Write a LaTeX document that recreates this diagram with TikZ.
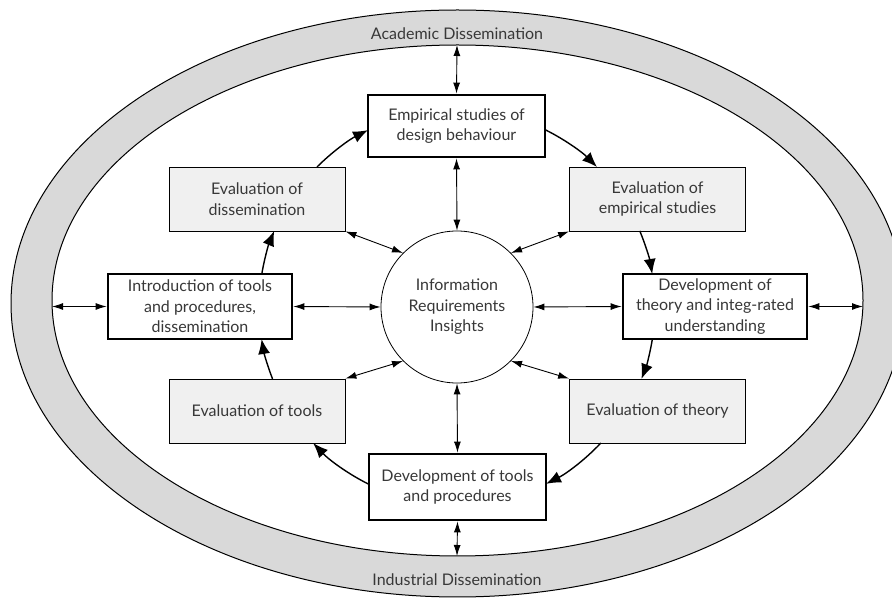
\documentclass[tikz,border=0pt]{standalone}
\usepackage{fontspec}
\setmainfont{Lato}
\usetikzlibrary{arrows.meta,calc}
\definecolor{ringgray}{HTML}{D9D9D9}
\definecolor{boxgray}{HTML}{F0F0F0}
\definecolor{txt}{HTML}{383838}
\begin{document}
\begin{tikzpicture}[x=1pt,y=1pt,
  every node/.style={font=\fontsize{16}{20.5}\selectfont, text=txt},
  mainbox/.style={draw, line width=2.8pt, fill=white, minimum width=177pt, minimum height=62pt, align=center, inner sep=0pt},
  evalbox/.style={draw, line width=0.8pt, fill=boxgray, minimum width=176pt, minimum height=64pt, align=center, inner sep=0pt},
  dbl/.style={{Latex[length=11pt,width=7pt]}-{Latex[length=11pt,width=7pt]}, line width=0.9pt},
  cyc/.style={-{Latex[length=15pt,width=12pt]}, line width=1.4pt}]
\useasboundingbox (0,0) rectangle (892,600);
\clip (0,0) rectangle (892,600);
% ring
\fill[ringgray, even odd rule] (457.5,296.5) ellipse [x radius=446.5, y radius=293.5]
  (457.5,299.5) ellipse [x radius=405.5, y radius=255.5];
\draw[line width=1pt] (457.5,296.5) ellipse [x radius=446.5, y radius=293.5];
\draw[line width=1pt] (457.5,299.5) ellipse [x radius=405.5, y radius=255.5];
\node (acad) at (457,566) {Academic Dissemination};
\node (ind) at (457,20) {Industrial Dissemination};
\coordinate (ringT) at (457,555);
\coordinate (ringB) at (457,44);
\coordinate (ringL) at (52,293.5);
\coordinate (ringR) at (863,293.5);
% centre
\node[circle, draw, line width=0.8pt, fill=white, minimum size=152pt, inner sep=0pt, align=center] (C) at (457,293) {Information\\Requirements\\Insights};
% boxes
\node[mainbox] (E1) at (456.5,474) {Empirical studies of\\design behaviour};
\node[evalbox] (ED) at (257,401) {Evaluation of\\dissemination};
\node[evalbox] (EE) at (657.5,401) {Evaluation of\\empirical studies};
\node[mainbox, minimum width=184pt, minimum height=65pt] (IT) at (200,293.5) {Introduction of tools\\and procedures,\\dissemination};
\node[mainbox, minimum width=184pt, minimum height=65pt] (DT) at (715,293.5) {Development of\\theory and integ-rated\\understanding};
\node[evalbox] (ET) at (257,189) {Evaluation of tools};
\node[evalbox] (ETh) at (657.5,189) {Evaluation of theory};
\node[mainbox, minimum height=66pt] (DTo) at (457.5,113) {Development of tools\\and procedures};
% double arrows
\draw[dbl] (ringT) -- (E1.north);
\draw[dbl] (E1.south) -- (C.north);
\draw[dbl] (ED.south east) -- (C.135);
\draw[dbl] (EE.south west) -- (C.45);
\draw[dbl] (IT.east) -- (C.west);
\draw[dbl] (DT.west) -- (C.east);
\draw[dbl] (ET.north east) -- (C.-135);
\draw[dbl] (ETh.north west) -- (C.-45);
\draw[dbl] (DTo.north) -- (C.south);
\draw[dbl] (DTo.south) -- (ringB);
\draw[dbl] (IT.west) -- (ringL);
\draw[dbl] (DT.east) -- (ringR);
% cycle
\draw[cyc] ($(C)+(63.6:198)$) arc[start angle=63.6, end angle=45, radius=198];
\draw[cyc] ($(C)+(22.6:198)$) arc[start angle=22.6, end angle=9.6, radius=198];
\draw[cyc] ($(C)+(-9.3:198)$) arc[start angle=-9.3, end angle=-21.3, radius=198];
\draw[cyc] ($(C)+(-43.4:198)$) arc[start angle=-43.4, end angle=-63.3, radius=198];
\draw[cyc] ($(C)+(-116.4:198)$) arc[start angle=-116.4, end angle=-136.6, radius=198];
\draw[cyc] ($(C)+(-158.7:198)$) arc[start angle=-158.7, end angle=-170.7, radius=198];
\draw[cyc] ($(C)+(170.4:198)$) arc[start angle=170.4, end angle=157.4, radius=198];
\draw[cyc] ($(C)+(135:198)$) arc[start angle=135, end angle=116.7, radius=198];
\end{tikzpicture}
\end{document}
